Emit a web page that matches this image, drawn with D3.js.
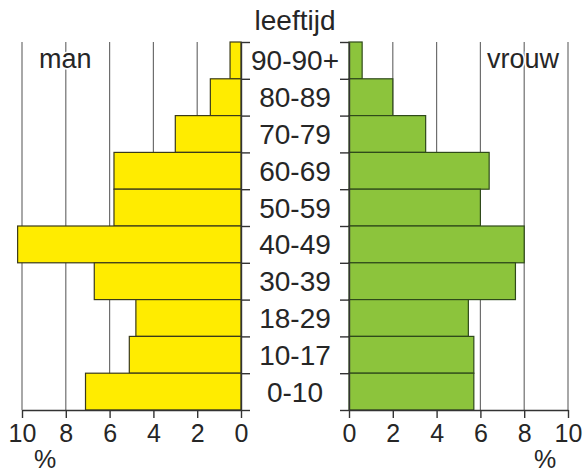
<!DOCTYPE html>
<html>
<head>
<meta charset="utf-8">
<script src="https://cdn.jsdelivr.net/npm/d3@7"></script>
<style>
  body { margin: 0; background: #fff; }
  svg text { font-family: "Liberation Sans", Arial, sans-serif; fill: #262626; }
</style>
</head>
<body>
<svg id="chart" width="586" height="472"></svg>
<script>
// leeftijdsgroepen (van boven naar beneden)
const ages = ["90-90+", "80-89", "70-79", "60-69", "50-59", "40-49", "30-39", "18-29", "10-17", "0-10"];
const man = [0.5, 1.4, 3.0, 5.8, 5.8, 10.2, 6.7, 4.8, 5.1, 7.1];
const vrouw = [0.6, 2.0, 3.5, 6.4, 6.0, 8.0, 7.6, 5.45, 5.7, 5.7];
const ticks = [0, 2, 4, 6, 8, 10];

const svg = d3.select("#chart");
const yTop = 42, yBottom = 410;

const xL = d3.scaleLinear().domain([10, 0]).range([22, 241]);
const xR = d3.scaleLinear().domain([0, 10]).range([349, 568]);
const y = d3.scaleBand().domain(ages).range([yTop, yBottom]).padding(0);
const yEdge = d3.scaleLinear().domain([0, ages.length]).range([yBottom, yTop]);

// rasterlijnen
const grid = svg.append("g");
[xL, xR].forEach(x => {
  grid.selectAll(null)
    .data(ticks.filter(t => t > 0))
    .join("line")
    .attr("x1", d => x(d)).attr("x2", d => x(d))
    .attr("y1", yTop).attr("y2", yBottom)
    .attr("stroke", "#6e6e6e")
    .attr("stroke-width", 1.2);
});

// labels man / vrouw (met witte achtergrond)
function label(txt, x, yy, anchor) {
  svg.append("text")
    .attr("x", x).attr("y", yy)
    .attr("text-anchor", anchor)
    .attr("font-size", 27)
    .attr("stroke", "#fff").attr("stroke-width", 3)
    .attr("paint-order", "stroke")
    .text(txt);
}
label("man", 39, 68, "start");
label("vrouw", 487, 68, "start");

// staven
const data = ages.map((a, i) => ({ age: a, man: man[i], vrouw: vrouw[i] }));

svg.append("g").selectAll("rect")
  .data(data)
  .join("rect")
  .attr("x", d => xL(d.man))
  .attr("y", d => y(d.age))
  .attr("width", d => xL(0) - xL(d.man))
  .attr("height", y.bandwidth())
  .attr("fill", "#ffec00")
  .attr("stroke", "#3a3a1a")
  .attr("stroke-width", 1.2);

svg.append("g").selectAll("rect")
  .data(data)
  .join("rect")
  .attr("x", xR(0))
  .attr("y", d => y(d.age))
  .attr("width", d => xR(d.vrouw) - xR(0))
  .attr("height", y.bandwidth())
  .attr("fill", "#8cc43c")
  .attr("stroke", "#2f4a1a")
  .attr("stroke-width", 1.2);

// verticale assen
const edges = d3.range(ages.length + 1);
const axL = svg.append("g")
  .attr("transform", `translate(${xL(0)},0)`)
  .call(d3.axisRight(yEdge).tickValues(edges).tickFormat("").tickSize(9).tickSizeOuter(0));
const axR = svg.append("g")
  .attr("transform", `translate(${xR(0)},0)`)
  .call(d3.axisLeft(yEdge).tickValues(edges).tickFormat("").tickSize(9).tickSizeOuter(0));

// horizontale assen
const bxL = svg.append("g")
  .attr("transform", `translate(0,${yBottom})`)
  .call(d3.axisBottom(xL).tickValues(ticks).tickSize(8).tickSizeOuter(0).tickPadding(6));
const bxR = svg.append("g")
  .attr("transform", `translate(0,${yBottom})`)
  .call(d3.axisBottom(xR).tickValues(ticks).tickSize(8).tickSizeOuter(0).tickPadding(6));

[axL, axR, bxL, bxR].forEach(g => {
  g.selectAll("path, line").attr("stroke", "#333").attr("stroke-width", 1.4);
});
[bxL, bxR].forEach(g => {
  g.selectAll("text")
    .attr("font-size", 25)
    .attr("font-family", "Liberation Sans, Arial, sans-serif")
    .attr("fill", "#262626");
});

// leeftijdslabels
svg.append("g").selectAll("text")
  .data(ages)
  .join("text")
  .attr("x", (xL(0) + xR(0)) / 2)
  .attr("y", d => y(d) + y.bandwidth() / 2)
  .attr("dy", "0.36em")
  .attr("text-anchor", "middle")
  .attr("font-size", 28)
  .text(d => d);

svg.append("text")
  .attr("x", (xL(0) + xR(0)) / 2).attr("y", 30)
  .attr("text-anchor", "middle")
  .attr("font-size", 28)
  .text("leeftijd");

svg.append("text").attr("x", 45).attr("y", 468)
  .attr("text-anchor", "middle").attr("font-size", 25).text("%");
svg.append("text").attr("x", 545).attr("y", 468)
  .attr("text-anchor", "middle").attr("font-size", 25).text("%");
</script>
</body>
</html>
